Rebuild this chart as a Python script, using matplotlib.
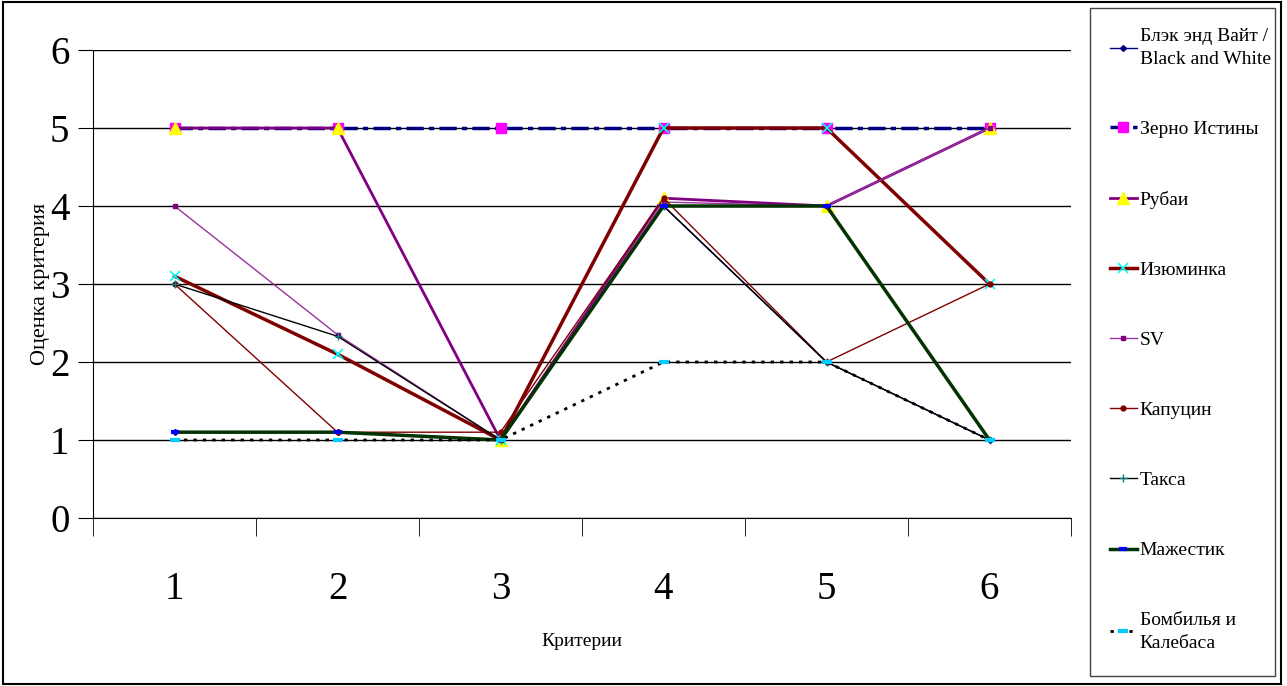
import matplotlib
matplotlib.use('Agg')
import matplotlib.pyplot as plt
from matplotlib.patches import Rectangle
from matplotlib.ticker import FixedLocator

plt.rcParams['font.family'] = ['Liberation Serif', 'DejaVu Serif']

criteria = [1, 2, 3, 4, 5, 6]
names = ['Блэк энд Вайт /\nBlack and White', 'Зерно Истины', 'Рубаи', 'Изюминка',
         'SV', 'Капуцин', 'Такса', 'Мажестик', 'Бомбилья и\nКалебаса']

black_white = [1.1, 1.1, 1.0, 4.0, 2.0, 1.0]
zerno = [5, 5, 5, 5, 5, 5]
rubai = [5, 5, 1.0, 4.1, 4.0, 5]
izyuminka = [3.1, 2.1, 1.0, 5, 5, 3]
sv = [4, 2.35, 1.0, 4.05, 4.0, 5]
kapucin = [3, 1.1, 1.1, 4.1, 2.0, 3]
taksa = [3, 2.33, 1.0, 4.0, 2.0, 1.0]
majestic = [1.1, 1.1, 1.0, 4.0, 4.0, 1.0]
bombilya = [1, 1, 1, 2, 2, 1]

series = [black_white, zerno, rubai, izyuminka, sv, kapucin, taksa, majestic, bombilya]

styles = [
    dict(color='#000080', lw=1.0, marker='D', ms=3, mfc='#000080', mec='#000080'),
    dict(color='#000080', lw=2.5, ls=(0, (5, 1.5, 1.5, 1.5)), marker='s', ms=7, mfc='#ff00ff', mec='#ff00ff'),
    dict(color='#800080', lw=2.0, marker='^', ms=8, mfc='#ffff00', mec='#ffff00'),
    dict(color='#800000', lw=2.5, marker='x', ms=7, mfc='#00ffff', mec='#00ffff', mew=1.2),
    dict(color='#9933a0', lw=1.0, marker='s', ms=3, mfc='#800080', mec='#800080'),
    dict(color='#800000', lw=1.0, marker='o', ms=3.5, mfc='#800000', mec='#800000'),
    dict(color='#000000', lw=1.0, marker='+', ms=6, mfc='#008080', mec='#008080'),
    dict(color='#003300', lw=2.5, marker='_', ms=6, mfc='#0000ff', mec='#0000ff', mew=3),
    dict(color='#000000', lw=2.0, ls=(0, (1.2, 2.2)), marker='_', ms=7, mfc='#00ccff', mec='#00ccff', mew=3),
]

fig = plt.figure(figsize=(12.87, 6.86), dpi=100)
ax = fig.add_axes([93 / 1287, 1 - 518 / 686, (1071 - 93) / 1287, (518 - 50) / 686])

handles = []
for vals, name, st in zip(series, names, styles):
    h, = ax.plot(criteria, vals, label=name, **st)
    handles.append(h)

ax.set_xlim(0.5, 6.5)
ax.set_ylim(0, 6)
ax.set_yticks(range(0, 7))
ax.yaxis.grid(True, color='black', lw=1.0)
ax.set_axisbelow(True)
ax.set_xticks(criteria)
ax.xaxis.set_minor_locator(FixedLocator([0.5 + i for i in range(7)]))
ax.tick_params(axis='x', which='major', length=0, pad=38, labelsize=28)
ax.tick_params(axis='x', which='minor', length=13, direction='out', color='black')
ax.tick_params(axis='y', length=11, direction='out', pad=6, labelsize=28)
for side in ['top', 'right']:
    ax.spines[side].set_visible(False)
ax.spines['left'].set_color('black')
ax.spines['bottom'].set_color('black')

ax.set_ylabel('Оценка критерия', fontsize=16, labelpad=0)
ax.set_xlabel('Критерии', fontsize=14, labelpad=18)

# outer frame and legend box
fig.patches.append(Rectangle((3 / 1287, 2 / 686), 1278 / 1287, 682 / 686, transform=fig.transFigure,
                             fill=False, ec='black', lw=1.5))
fig.patches.append(Rectangle((1090 / 1287, 1 - 676 / 686), 185 / 1287, 668 / 686, transform=fig.transFigure,
                             fill=False, ec='#444444', lw=1.0))

leg = fig.legend(handles=handles, loc='center left', bbox_to_anchor=(1092 / 1287, 1 - 340 / 686),
                 frameon=False, fontsize=14, labelspacing=2.7, handlelength=1.4, handletextpad=0.15)
for t in leg.get_texts():
    t.set_linespacing(1.45)

fig.savefig('out.png', dpi=100)
